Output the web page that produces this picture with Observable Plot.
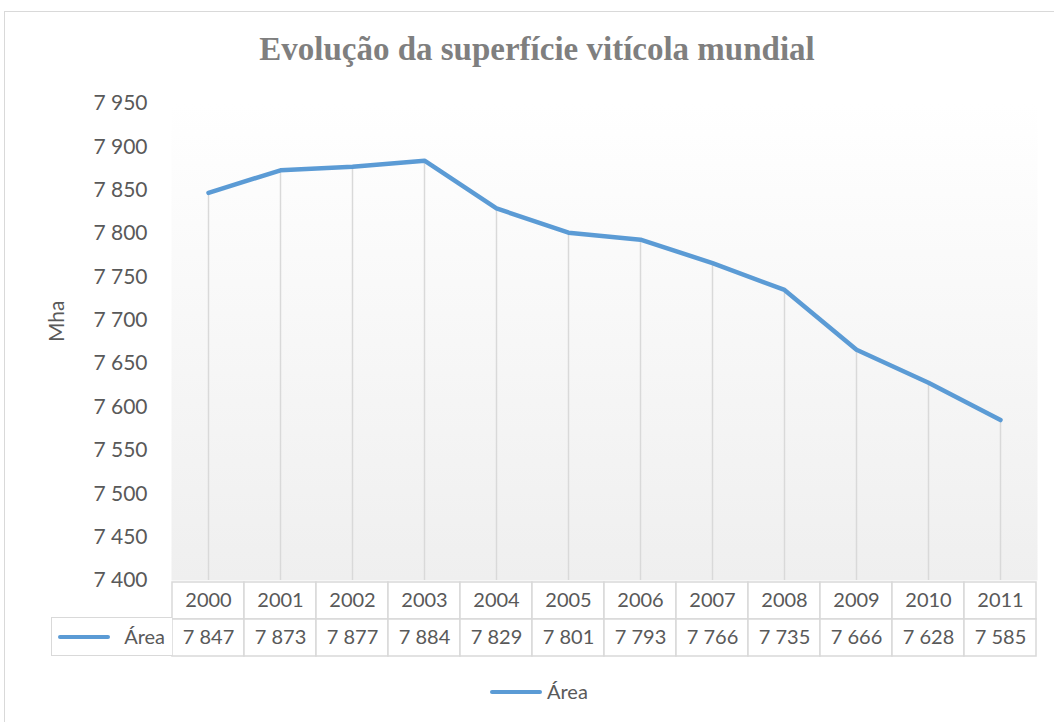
<!DOCTYPE html>
<html><head><meta charset="utf-8">
<script src="https://cdn.jsdelivr.net/npm/d3@7"></script>
<script src="https://cdn.jsdelivr.net/npm/@observablehq/plot@0.6"></script>
<style>
html,body{margin:0;padding:0;background:#fff;overflow:hidden}
#wrap{position:relative;width:1054px;height:722px;overflow:hidden;font-family:Lato,sans-serif;color:#595959}
#frame{position:absolute;left:4px;top:11px;width:1100px;height:800px;border:1.5px solid #d9d9d9;}
#title{position:absolute;left:0;width:1074px;top:29px;text-align:center;font:bold 33px "Liberation Serif","Times New Roman",serif;color:#7f7f7f;line-height:40px}
.abs{position:absolute;left:0}
#hdr{position:absolute;left:51px;top:617px;width:121px;height:39px;box-sizing:border-box;border:1.5px solid #d9d9d9;border-right:none;background:#fff}
#hdr .ln{position:absolute;left:6px;top:17px;width:52px;height:4px;background:#5b9bd5;border-radius:2px}
#hdr .tx{position:absolute;right:7px;top:0;line-height:37px;font-size:20px}
#leg{position:absolute;left:490px;top:676px;height:30px}
#leg .ln{position:absolute;left:0;top:14px;width:52px;height:4px;background:#5b9bd5;border-radius:2px}
#leg .tx{position:absolute;left:57px;top:0;line-height:30px;font-size:20px;white-space:nowrap}
</style>
</head><body>
<div id="wrap">
  <div id="frame"></div>
  <div id="title">Evolução da superfície vitícola mundial</div>
  <div id="chart" class="abs" style="top:0"></div>
  <div id="table" class="abs" style="top:580px"></div>
  <div id="hdr"><div class="ln"></div><div class="tx">Área</div></div>
  <div id="leg"><div class="ln"></div><div class="tx">Área</div></div>
</div>
<script>
const years = ["2000","2001","2002","2003","2004","2005","2006","2007","2008","2009","2010","2011"];
const areaValues = [7847,7873,7877,7884,7829,7801,7793,7766,7735,7666,7628,7585];
const yTicks = [7400,7450,7500,7550,7600,7650,7700,7750,7800,7850,7900,7950];
const seriesName = "Área";
const yLabel = "Mha";

const fmt = d3.formatLocale({decimal:",",thousands:" ",grouping:[3],currency:["",""]}).format(",d");
const data = years.map((y,i)=>({year:y, value:areaValues[i]}));

const main = Plot.plot({
  width:1054, height:722,
  marginLeft:171, marginRight:17, marginTop:103, marginBottom:142,
  style:{fontFamily:"Lato, sans-serif", fontSize:"21px", color:"#595959", background:"transparent", overflow:"visible"},
  x:{type:"point", domain:years, padding:0.5, axis:null},
  y:{domain:[7400,7950], ticks:yTicks, tickFormat:fmt, tickSize:0, tickPadding:24, label:null},
  marks:[
    Plot.frame({fill:"url(#bgGrad)", stroke:"none"}),
    Plot.ruleX(data,{x:"year", y1:7400, y2:"value", stroke:"#d9d9d9", strokeWidth:1.5}),
    Plot.line(data,{x:"year", y:"value", stroke:"#5b9bd5", strokeWidth:4.5, strokeLinecap:"round", strokeLinejoin:"round"}),
    Plot.text([yLabel],{frameAnchor:"left", dx:-114, rotate:-90, fontSize:21, fill:"#595959"})
  ]
});
d3.select(main).insert("defs",":first-child").html(
  '<linearGradient id="bgGrad" x1="0" y1="0" x2="0" y2="1"><stop offset="0" stop-color="#ffffff"/><stop offset="1" stop-color="#efefef"/></linearGradient>');
document.getElementById("chart").appendChild(main);

const rows = ["h","v"];
const cells = years.flatMap((y,i)=>[{year:y,row:"h",label:y},{year:y,row:"v",label:fmt(areaValues[i])}]);
const table = Plot.plot({
  width:1054, height:77,
  marginLeft:171, marginRight:17, marginTop:1, marginBottom:1,
  style:{fontFamily:"Lato, sans-serif", fontSize:"20px", color:"#595959", background:"transparent", overflow:"visible"},
  x:{type:"band", domain:years, padding:0, axis:null},
  y:{type:"band", domain:rows, padding:0, axis:null},
  marks:[
    Plot.cell(cells,{x:"year", y:"row", fill:"#fff", stroke:"#d9d9d9", strokeWidth:1.5, inset:0}),
    Plot.text(cells,{x:"year", y:"row", text:"label", fontSize:20, fill:"#595959"})
  ]
});
document.getElementById("table").appendChild(table);
document.querySelectorAll(".tx").forEach(e=>e.textContent=seriesName);
</script>
</body></html>
